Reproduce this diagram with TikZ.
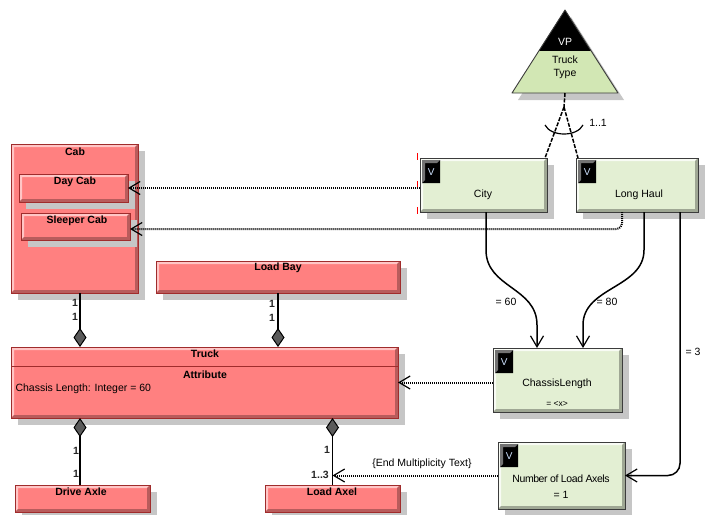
\documentclass[tikz,border=0pt]{standalone}
\usepackage{fontspec}
\setmainfont{Liberation Sans}
\usetikzlibrary{arrows.meta,shadows,calc}

\definecolor{boxred}{HTML}{FF8080}
\definecolor{redline}{HTML}{A02C2C}
\definecolor{boxgreen}{HTML}{E3EFD3}
\definecolor{greenline}{HTML}{3C3C3C}
\definecolor{shadegray}{HTML}{C6C6C6}
\definecolor{vpgreen}{HTML}{D2E7B4}
\definecolor{vtext}{HTML}{CFE3FF}
\definecolor{diamondgray}{HTML}{5A5A5A}
\definecolor{markred}{HTML}{FF0000}

\tikzset{
  bevel/.style 2 args={path picture={
    \fill[#1] (path picture bounding box.north west) -- (path picture bounding box.north east)
      -- ([shift={(-3pt,-3pt)}]path picture bounding box.north east)
      -- ([shift={(3pt,-3pt)}]path picture bounding box.north west)
      -- ([shift={(3pt,3pt)}]path picture bounding box.south west)
      -- (path picture bounding box.south west) -- cycle;
    \fill[#2] (path picture bounding box.south east) -- (path picture bounding box.north east)
      -- ([shift={(-3pt,-3pt)}]path picture bounding box.north east)
      -- ([shift={(-3pt,3pt)}]path picture bounding box.south east)
      -- ([shift={(3pt,3pt)}]path picture bounding box.south west)
      -- (path picture bounding box.south west) -- cycle;
  }},
  boxbase/.style={anchor=north west, inner sep=0pt, outer sep=0pt, line width=0.9pt,
    general shadow={fill=shadegray, shadow xshift=7pt, shadow yshift=-7pt}},
  redbox/.style={boxbase, draw=redline, fill=boxred, bevel={boxred!45!white}{boxred!72!black}},
  greenbox/.style={boxbase, draw=greenline, fill=boxgreen, bevel={white!75!boxgreen}{boxgreen!70!black}},
  vbox/.style={anchor=north west, inner sep=0pt, fill=black, minimum width=18pt, minimum height=23pt,
    text=vtext, bevel={black!55}{black}},
  title/.style={font=\fontsize{10.5}{12}\selectfont\bfseries},
  txt/.style={font=\fontsize{10.5}{12}\selectfont},
  mult/.style={font=\fontsize{10.5}{12}\selectfont\bfseries, text=black!85},
  barb/.tip={Straight Barb[length=11pt, width=13pt, line width=1.2pt]},
  solidline/.style={line width=1.5pt, draw=black},
  dotline/.style={line width=2pt, draw=black, dash pattern=on 1pt off 1pt},
  vpline/.style={line width=1.5pt, draw=black, dash pattern=on 4pt off 1.5pt},
  agg/.tip={Diamond[length=19pt, width=13pt, fill=diamondgray, line width=1pt]},
}

\begin{document}
\begin{tikzpicture}[x=1pt, y=-1pt]
\useasboundingbox (0,0) rectangle (709,514);

% ---------- class boxes ----------
\node[redbox, minimum width=127pt, minimum height=149pt] (cab) at (11,144) {};
\node[redbox, minimum width=109pt, minimum height=28pt] (dc) at (19,174) {};
\node[redbox, minimum width=109pt, minimum height=27pt] (sc) at (21,213) {};
\node[redbox, minimum width=244pt, minimum height=32pt] (lb) at (156,261) {};
\node[redbox, minimum width=387pt, minimum height=71pt] (truck) at (11,347) {};
\draw[redline, line width=0.9pt] (truck.west |- 0,366) -- (truck.east |- 0,366);
\node[redbox, minimum width=135pt, minimum height=27pt] (da) at (15,485) {};
\node[redbox, minimum width=135pt, minimum height=27pt] (la) at (265,485) {};

\node[title] (cabT) at (75,152) {Cab};
\node[title] (dcT) at (75,182) {Day Cab};
\node[title] (scT) at (77,221) {Sleeper Cab};
\node[title] (lbT) at (278,268) {Load Bay};
\node[title] (truckT) at (205,354) {Truck};
\node[title] (attrT) at (205,375) {Attribute};
\node[txt, anchor=west] (attrL) at (12,389) {Chassis Length: Integer = 60};
\node[title] (daT) at (81,492) {Drive Axle};
\node[title] (laT) at (332,492) {Load Axel};

% ---------- variation point ----------
\coordinate (vpTop) at (565,10);
\coordinate (vpL) at (512,93);
\coordinate (vpR) at (618,93);
\coordinate (vp) at (565,93);
\fill[shadegray] ([shift={(6pt,-7pt)}]vpTop) -- ([shift={(6pt,-7pt)}]vpR) -- ([shift={(6pt,-7pt)}]vpL) -- cycle;
\fill[vpgreen] (vpTop) -- (vpR) -- (vpL) -- cycle;
\begin{scope}
  \clip (vpTop) -- (vpR) -- (vpL) -- cycle;
  \fill[black] (500,0) rectangle (630,51);
\end{scope}
\draw[greenline, line width=0.9pt, line join=round] (vpTop) -- (vpR) -- (vpL) -- cycle;
\node[txt, text=white] (vpT) at (565,42) {VP};
\node[txt, align=center, font=\fontsize{10.5}{13}\selectfont] (vpName) at (565,67) {Truck\\Type};

% ---------- variants ----------
\node[greenbox, minimum width=127pt, minimum height=54pt] (city) at (420,158) {};
\node[vbox] (cityV) at (422,160) {V};
\node[txt] (cityT) at (483,195) {City};
\node[greenbox, minimum width=122pt, minimum height=54pt] (lh) at (576,158) {};
\node[vbox] (lhV) at (578,160) {V};
\node[txt] (lhT) at (639,195) {Long Haul};
\node[greenbox, minimum width=129pt, minimum height=64pt] (cl) at (493,348) {};
\node[vbox] (clV) at (495,350) {V};
\node[txt] (clT) at (557,384) {ChassisLength};
\node[txt, font=\fontsize{8.5}{10}\selectfont] (clX) at (557,404) {= <x>};
\node[greenbox, minimum width=127pt, minimum height=67pt] (num) at (498,442) {};
\node[vbox] (numV) at (500,444) {V};
\node[txt, font=\fontsize{10.5}{12}\selectfont\addfontfeatures{LetterSpace=-4}] (numT) at (561,479) {Number of Load Axels};
\node[txt] (numX) at (561,495) {= 1};

% selection marks beside City
\draw[markred, line width=1pt] (417,153) -- (417,160) (417,181) -- (417,188) (417,207) -- (417,214);

% ---------- variation point to variants ----------
\coordinate (split) at (564,107);
\draw[vpline] (vp) -- (split);
\draw[vpline] (split) -- ([xshift=-2pt]city.north east);
\draw[vpline] (split) -- ([xshift=2pt]lh.north west);
\draw[line width=1.2pt] (545,125) .. controls (551,137) and (577,137) .. (583,125);
\node[txt] (vpMult) at (598,123) {1..1};

% ---------- aggregations ----------
\coordinate (c80) at (80,0);
\draw[solidline, -{agg}] (cab.south -| c80) -- (truck.north -| c80);
\draw[solidline, -{agg}] (lb.south) -- (truck.north -| lb.south);
\draw[solidline, {agg}-] (truck.south -| c80) -- (da.north -| c80);
\draw[solidline, {agg}-] (truck.south -| la.north) -- (la.north);

\node[mult] (m1) at (75,303) {1};
\node[mult] (m2) at (75,317) {1};
\node[mult] (m3) at (272,304) {1};
\node[mult] (m4) at (272,318) {1};
\node[mult] (m5) at (76,451) {1};
\node[mult] (m6) at (76,474) {1};
\node[mult] (m7) at (327,450) {1};
\node[mult] (m8) at (320,475) {1..3};

% ---------- dependencies ----------
\draw[dotline, -{barb}] (city.west |- dc.east) -- (dc.east);
\draw[dotline, rounded corners=6pt, -{barb}] ([xshift=-15pt]lh.south) |- ([yshift=-2.5pt]sc.east);
\draw[dotline, -{barb}] (cl.west |- truck.east) -- (truck.east);
\draw[dotline, -{barb}] (num.west) -- (num.west -| la.north);
\node[txt] (endM) at (422,464) {\{End Multiplicity Text\}};

% ---------- value bindings ----------
\draw[solidline, -{barb}] ([xshift=2.5pt]city.south) -- ++(0,38)
  .. controls +(0,38) and +(0,-38) .. ([xshift=-20.5pt, yshift=23pt]cl.north) -- ([xshift=-20.5pt]cl.north);
\draw[solidline, -{barb}] ([xshift=7pt]lh.south) -- ++(0,38)
  .. controls +(0,38) and +(0,-38) .. ([xshift=25.5pt, yshift=23pt]cl.north) -- ([xshift=25.5pt]cl.north);
\draw[solidline, rounded corners=12pt, -{barb}] ([xshift=43pt]lh.south) |- (num.east);
\node[txt] (v60) at (506,302) {= 60};
\node[txt] (v80) at (607,302) {= 80};
\node[txt] (v3) at (693,352) {= 3};
\end{tikzpicture}
\end{document}
